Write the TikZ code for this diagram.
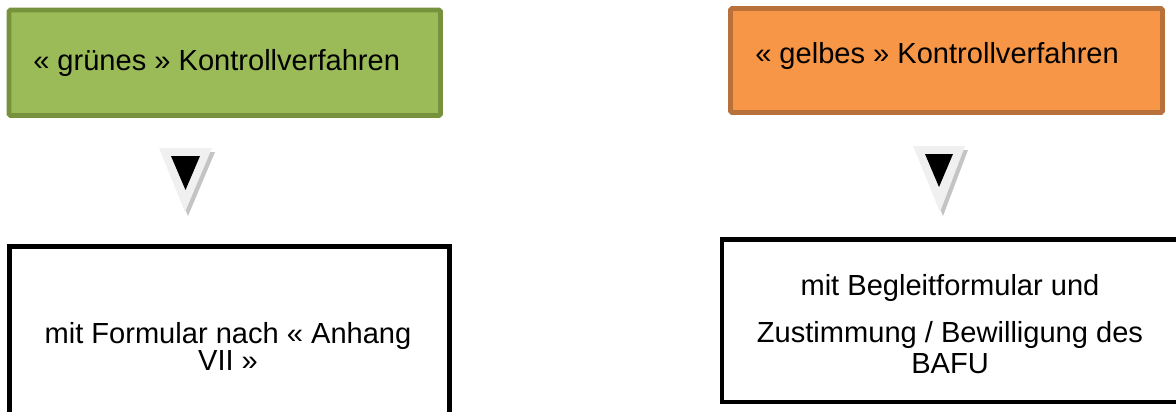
\documentclass[tikz,border=0pt]{standalone}
\usepackage{fontspec}
\setmainfont{Liberation Sans}
\begin{document}
\begin{tikzpicture}[x=0.75pt,y=-0.75pt,
  lbl/.style={anchor=base,inner sep=0pt,font=\fontsize{21.8}{24}\selectfont},
  lblw/.style={lbl,anchor=base west},
  greenbox/.style={draw=greenline,fill=greenfill,line width=3.6pt,rounded corners=1.2pt},
  orangebox/.style={draw=orangeline,fill=orangefill,line width=3.6pt,rounded corners=1.2pt},
  plainbox/.style={draw=black,fill=white,line width=3.6pt},
  tri/.style={fill=trilight},
  trishadow/.style={fill=trishade},
  tricore/.style={fill=black}]
\definecolor{greenfill}{HTML}{9BBB59}
\definecolor{greenline}{HTML}{76923C}
\definecolor{orangefill}{HTML}{F79646}
\definecolor{orangeline}{HTML}{B8713A}
\definecolor{trilight}{HTML}{F0F0F0}
\definecolor{trishade}{HTML}{C4C4C4}
\useasboundingbox (0,0) rectangle (1176,411);
\clip (0,0) rectangle (1176,411);

% top boxes
\draw[greenbox] (9,10) rectangle (440.5,115.5);
\node[lblw] (gruen) at (33,70) {« grünes » Kontrollverfahren};
\draw[orangebox] (730.5,8.5) rectangle (1162.5,112.5);
\node[lblw] (gelb) at (755,63) {« gelbes » Kontrollverfahren};

% down markers
\fill[trishadow] (162,152) -- (215,152) -- (188,216) -- cycle;
\fill[tri] (159,148) -- (212,148) -- (185,212) -- cycle;
\fill[tricore] (171,156) -- (200,156) -- (185.5,190) -- cycle;

\fill[trishadow] (916,150) -- (968,150) -- (943,216) -- cycle;
\fill[tri] (913,146) -- (965,146) -- (940,212) -- cycle;
\fill[tricore] (925,154) -- (953,154) -- (939,187) -- cycle;

% bottom boxes
\draw[plainbox] (9.5,246.5) rectangle (449.5,430);
\node[lbl] (anh1) at (228,343.5) {mit Formular nach « Anhang};
\node[lbl] (anh2) at (228,370) {VII »};

\draw[plainbox] (722,239.5) rectangle (1190,402);
\node[lbl] (baf1) at (950,295) {mit Begleitformular und};
\node[lbl] (baf2) at (950,342) {Zustimmung / Bewilligung des};
\node[lbl] (baf3) at (950,373.5) {BAFU};
\end{tikzpicture}
\end{document}
